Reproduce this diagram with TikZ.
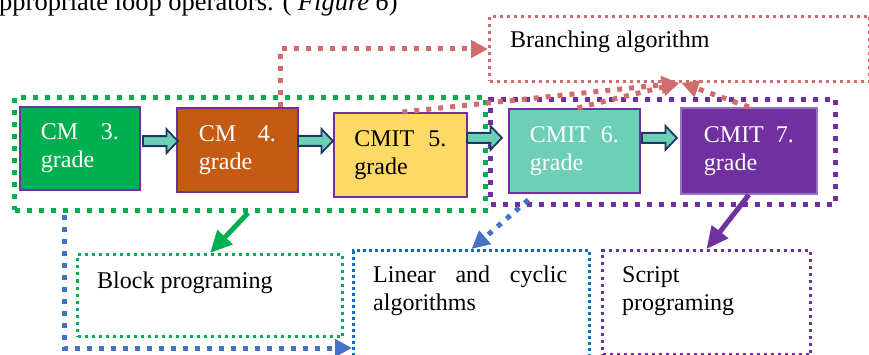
\documentclass[tikz,border=0pt]{standalone}
\usepackage{fontspec}
\setmainfont{Liberation Serif}
\usetikzlibrary{arrows.meta,calc}
\definecolor{cgreen}{HTML}{00B050}
\definecolor{corange}{HTML}{C55A11}
\definecolor{cyellow}{HTML}{FFD966}
\definecolor{cteal}{HTML}{6DCFB6}
\definecolor{cpurple}{HTML}{7030A0}
\definecolor{clpurple}{HTML}{9A72C4}
\definecolor{crose}{HTML}{D26B6B}
\definecolor{cblue}{HTML}{4472C4}
\definecolor{cbluebox}{HTML}{0070C0}
\definecolor{cnavy}{HTML}{1F3864}
\begin{document}
\begin{tikzpicture}[x=1pt,y=-1pt,
  gradebox/.style={draw=cpurple, line width=1.8pt, anchor=north west, inner xsep=0pt, inner ysep=0pt,
     align=left, font=\fontsize{24}{28}\selectfont},
  groupbox/.style={line width=5pt, dash pattern=on 5pt off 7pt, anchor=north west, inner sep=0pt},
  thinbox/.style={line width=3pt, dash pattern=on 3pt off 4pt, anchor=north west, inner sep=0pt},
  txt/.style={inner sep=0pt, anchor=base west, align=left, font=\fontsize{24}{28}\selectfont},
  roseline/.style={draw=crose, line width=5pt, dash pattern=on 5pt off 7pt, -{Triangle[length=17pt,width=17pt]}},
  blueline/.style={draw=cblue, line width=5pt, dash pattern=on 5pt off 7pt, -{Triangle[length=17pt,width=17pt]}},
  solidarrow/.style={line width=5pt, -{Triangle[length=22pt,width=20pt]}},
  barrow/.pic={\draw[fill=cteal, draw=cnavy, line width=1.8pt, line join=miter]
     (-17.5,-5) -- (6,-5) -- (6,-12) -- (17.5,0) -- (6,12) -- (6,5) -- (-17.5,5) -- cycle;}
]
\useasboundingbox (0,0) rectangle (869,355);

% top (cut) text line
\node[anchor=base east, inner sep=0pt, font=\fontsize{26.5}{30}\selectfont] (toptext) at (398,11)
  {appropriate loop operators. ( \textit{Figure 6})};

% group boxes
\node[groupbox, draw=cgreen, minimum width=471pt, minimum height=113pt] (grpA) at (12,95) {};
\node[groupbox, draw=cpurple, minimum width=345pt, minimum height=105pt] (grpB) at (488,97) {};

% grade boxes
\node[gradebox, fill=cgreen, text=white, minimum width=120pt, minimum height=83pt, text width=78pt] (c1) at (19,106) {CM\hfill 3.\\grade};
\node[gradebox, fill=corange, text=white, minimum width=121pt, minimum height=84pt, text width=77pt] (c2) at (176,107) {CM\hfill 4.\\grade};
\node[gradebox, fill=cyellow, text=black, minimum width=133pt, minimum height=84pt, text width=92pt] (c3) at (333,112) {CMIT\hfill 5.\\grade};
\node[gradebox, fill=cteal, text=white, minimum width=131pt, minimum height=84pt, text width=89pt] (c6) at (508,108) {CMIT\hfill 6.\\grade};
\node[gradebox, fill=cpurple, draw=clpurple, text=white, minimum width=136pt, minimum height=86pt, text width=90pt] (c7) at (680,107) {CMIT\hfill 7.\\grade};

% block arrows between grade boxes
\path (c1.east) -- (c2.west) coordinate[midway] (m1);
\path (c2.east) -- (c3.west) coordinate[midway] (m2);
\path (c3.east) -- (c6.west) coordinate[midway] (m3);
\path (c6.east) -- (c7.west) coordinate[midway] (m4);
\pic at ($(m1)+(2,-8)$) {barrow};
\pic at ($(m2)+(-0.5,-11.5)$) {barrow};
\pic at ($(m3)+(-3.5,-15)$) {barrow};
\pic at ($(m4)+(-1,-13)$) {barrow};

% target boxes
\node[thinbox, draw=crose, minimum width=380pt, minimum height=65pt] (ba) at (488,15) {};
\node[txt] (tba) at ($(ba.north west)+(22,33)$) {Branching algorithm};

\node[thinbox, draw=cgreen, minimum width=265pt, minimum height=82pt] (blk) at (76,253) {};
\node[txt] (tblk) at ($(blk.north west)+(21,35)$) {Block programing};

\node[thinbox, draw=cbluebox, dash pattern=on 3pt off 3pt, minimum width=236pt, minimum height=116pt] (lin) at (352,249) {};
\node[txt, text width=194pt] (tlin) at ($(lin.north west)+(21,33)$) {Linear\hfill and\hfill cyclic\\algorithms};

\node[thinbox, draw=cpurple, minimum width=208pt, minimum height=104pt] (scr) at (601,249) {};
\node[txt, text width=170pt] (tscr) at ($(scr.north west)+(21,33)$) {Script\\programing};

% rose connectors to branching algorithm
\draw[roseline] ($(c2.north)+(43,0)$) |- (ba.west);
\draw[roseline] ($(c3.north)+(2,0)$) -- ($(ba.south)+(-1,0)$);
\draw[roseline] ($(c6.north)+(3,0)$) -- (ba.south);
\draw[roseline] (c7.north) -- ($(ba.south)+(2,0)$);

% blue connectors
\draw[blueline] ($(grpA.south west)+(52,2)$) |- ($(lin.south west)+(0,-20)$);
\draw[blueline, -{Triangle[length=18pt,width=17pt]}] ($(c6.south)+(-46,6)$) -- (lin.north);

% solid arrows
\draw[solidarrow, draw=cgreen, fill=cgreen] ($(grpA.south west)+(236,0)$) -- (blk.north);
\draw[solidarrow, draw=cpurple, fill=cpurple] (c7.south) -- (scr.north);
\end{tikzpicture}
\end{document}
